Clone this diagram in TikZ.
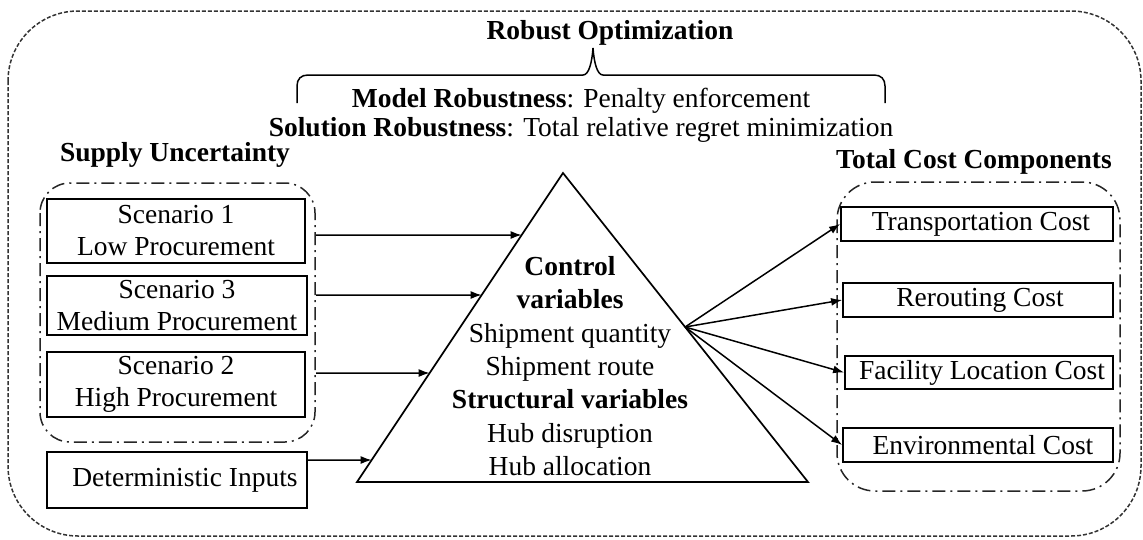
\documentclass[tikz,border=0pt]{standalone}
\usepackage{fontspec}
\setmainfont{Liberation Serif}
\usetikzlibrary{calc,arrows.meta}

\tikzset{
  txt/.style={font=\fontsize{27.5}{32}\selectfont, inner sep=0pt},
  box/.style={txt, draw, line width=1.8pt, align=center},
  grp/.style={draw=black!85, line width=1.5pt, dash pattern=on 13pt off 5pt on 2pt off 5pt},
  outer/.style={draw=black!80, line width=1.5pt, dash pattern=on 4pt off 2pt},
  arr/.style={line width=1.5pt, -{Latex[length=11pt,width=8pt]}},
}

\begin{document}
\begin{tikzpicture}[x=1pt,y=-1pt]
  \useasboundingbox (0,0) rectangle (1143,539);

  % outer frame
  \draw[outer, rounded corners=70pt] (8,11) rectangle (1141,536);

  % top: robust optimization with brace
  \node[txt, font=\bfseries\fontsize{27.5}{32}\selectfont] (ro) at (610,33) {Robust Optimization};
  \draw[line width=1.5pt]
    (297,103) -- (297,86) .. controls (297,79) and (301,75) .. (308,75)
    -- (583,75) .. controls (589,75) and (592,62) .. (593,48)
    .. controls (594,62) and (597,75) .. (603,75)
    -- (874,75) .. controls (881,75) and (885,79) .. (885,86) -- (885,103);
  \node[txt] (mr) at (581,101) {\textbf{Model Robustness}: Penalty enforcement};
  \node[txt] (sr) at (581,130) {\textbf{Solution Robustness}: Total relative regret minimization};

  % supply uncertainty group
  \node[txt, font=\bfseries\fontsize{27.5}{32}\selectfont] (su) at (175,155) {Supply Uncertainty};
  \draw[grp, rounded corners=30pt] (40,183) rectangle (315,442);
  \node[box, minimum width=258pt, minimum height=64pt] (s1) at (176,231) {Scenario 1\\Low Procurement};
  \node[box, minimum width=260pt, minimum height=59pt] (s3) at (177,305.5) {Scenario 3\\Medium Procurement};
  \node[box, minimum width=258pt, minimum height=65pt] (s2) at (176,384.5) {Scenario 2\\High Procurement};
  \node[box, minimum width=260pt, minimum height=56pt] (det) at (177,480) {\hspace*{16pt}\raisebox{-3pt}{Deterministic Inputs}};

  % central triangle
  \coordinate (apex) at (563,173);
  \coordinate (bl) at (357,482);
  \coordinate (br) at (808,482);
  \draw[line width=1.7pt, line join=miter] (apex) -- (bl) -- (br) -- cycle;
  \node[txt, align=center, font=\fontsize{27.5}{33.3}\selectfont] (vars) at (570,366)
    {\textbf{Control}\\\textbf{variables}\\Shipment quantity\\Shipment route\\
     \textbf{Structural variables}\\Hub disruption\\Hub allocation};

  % total cost group
  \node[txt, font=\bfseries\fontsize{27.5}{32}\selectfont] (tc) at (974,162) {Total Cost Components};
  \draw[grp, rounded corners=38pt] (837,182) rectangle (1120,491);
  \node[box, minimum width=272pt, minimum height=34pt] (c1) at (977,224) {\hspace*{8pt}Transportation Cost};
  \node[box, minimum width=270pt, minimum height=34pt] (c2) at (978,300) {\hspace*{4pt}Rerouting Cost};
  \node[box, minimum width=268pt, minimum height=33pt] (c3) at (979,372.5) {\hspace*{6pt}Facility Location Cost};
  \node[box, minimum width=270pt, minimum height=34pt] (c4) at (978,445) {\hspace*{10pt}Environmental Cost};

  % inputs into the triangle
  \coordinate (in1) at (316,235);
  \coordinate (in2) at (316,295);
  \coordinate (in3) at (316,373);
  \coordinate (in4) at (307,460);
  \coordinate (t1) at ($(apex)!0.20065!(bl)$);
  \coordinate (t2) at ($(apex)!0.39482!(bl)$);
  \coordinate (t3) at ($(apex)!0.64725!(bl)$);
  \coordinate (t4) at ($(apex)!0.92880!(bl)$);
  \draw[arr] (in1) -- (t1);
  \draw[arr] (in2) -- (t2);
  \draw[arr] (in3) -- (t3);
  \draw[arr] (in4) -- (t4);

  % outputs to cost components
  \coordinate (out) at ($(apex)!0.49838!(br)$);
  \draw[arr] (out) -- (c1.west);
  \draw[arr] (out) -- (c2.west);
  \draw[arr] (out) -- (c3.west);
  \draw[arr] (out) -- (c4.west);
\end{tikzpicture}
\end{document}
